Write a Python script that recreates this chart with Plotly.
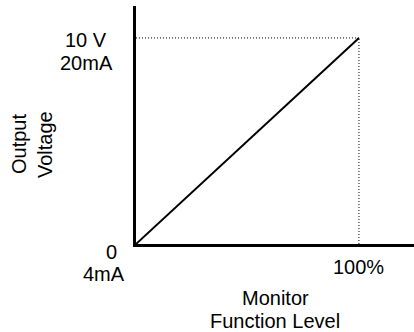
import plotly.graph_objects as go

# Data
x_line = [0, 100]          # Monitor function level (%)
y_line = [0, 10]           # Output voltage (V)
ref_x_h = [0, 100]
ref_y_h = [10, 10]
ref_x_v = [100, 100]
ref_y_v = [0, 10]

FONT = "Liberation Sans, Arial, sans-serif"
fig = go.Figure()
fig.add_trace(go.Scatter(x=ref_x_h, y=ref_y_h, mode="lines",
                         line=dict(color="black", width=1, dash="1px,2px"), hoverinfo="skip"))
fig.add_trace(go.Scatter(x=ref_x_v, y=ref_y_v, mode="lines",
                         line=dict(color="black", width=1, dash="1px,2px"), hoverinfo="skip"))
fig.add_trace(go.Scatter(x=x_line, y=y_line, mode="lines",
                         line=dict(color="black", width=2), hoverinfo="skip"))

W, H = 414, 332
L, R, T, B = 136, 0, 6, 88
pw, ph = W - L - R, H - T - B

def px(xp):
    return (xp - L) / pw

def py(yp):
    return (H - B - yp) / ph

ann = []
def add(text, xp, yp, angle=0, xref="paper", xv=None):
    ann.append(dict(text=text, x=(px(xp) if xv is None else xv), y=py(yp),
                    xref=xref, yref="paper", showarrow=False, textangle=angle,
                    xanchor="center", yanchor="middle",
                    font=dict(family=FONT, size=20, color="black")))

add("10 V", 86, 40)
add("20mA", 86, 63)
add("0", 111.5, 252)
add("4mA", 103.5, 273.5)
add("100%", None, 266.5, xref="x", xv=100)
add("Monitor", 275, 298)
add("Function Level", 275, 320.5)
add("Output", 19, 144, angle=-90)
add("Voltage", 45, 145, angle=-90)

fig.update_layout(
    width=W, height=H,
    margin=dict(l=L, r=R, t=T, b=B),
    plot_bgcolor="white", paper_bgcolor="white",
    showlegend=False,
    annotations=ann,
    xaxis=dict(range=[0, 124.7], showgrid=False, zeroline=False, showticklabels=False,
               ticks="", showline=True, linewidth=3, linecolor="black", fixedrange=True),
    yaxis=dict(range=[0, 11.55], showgrid=False, zeroline=False, showticklabels=False,
               ticks="", showline=True, linewidth=3, linecolor="black", fixedrange=True),
)
fig.write_html("out.html", config={"displayModeBar": False},
               post_script="document.body.style.margin='0';document.body.style.overflow='hidden';")
